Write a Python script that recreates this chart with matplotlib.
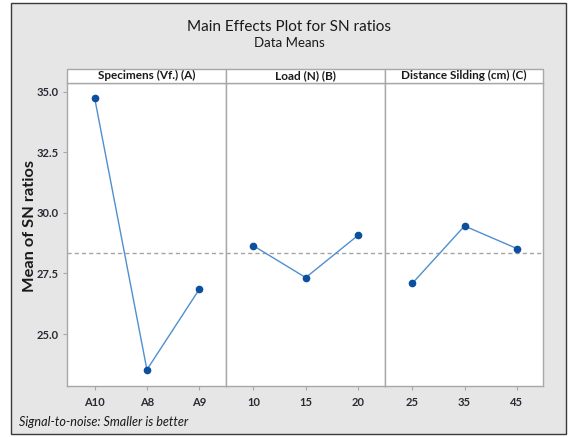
import matplotlib
matplotlib.use("Agg")
import matplotlib.pyplot as plt
from matplotlib.patches import Rectangle
import numpy as np

plt.rcParams['font.family'] = ['Lato', 'DejaVu Sans']

# data
factors = ["Specimens (Vf.) (A)", "Load (N) (B)", "Distance Silding (cm) (C)"]
levels_a = ["A10", "A8", "A9"]
levels_b = ["10", "15", "20"]
levels_c = ["25", "35", "45"]
sn_a = [34.73, 23.53, 26.84]
sn_b = [28.64, 27.33, 29.07]
sn_c = [27.09, 29.46, 28.53]
y_ticks = [25.0, 27.5, 30.0, 32.5, 35.0]

levels = [levels_a, levels_b, levels_c]
values = [sn_a, sn_b, sn_c]
grand_mean = np.mean(sn_a + sn_b + sn_c)

W, H = 574, 437
fig = plt.figure(figsize=(W / 100, H / 100), dpi=100)
fig.patch.set_facecolor("white")

# grey background box with dark frame
fig.patches.append(Rectangle((11 / W, 3 / H), 555 / W, 431 / H, transform=fig.transFigure,
                             facecolor="#e6e6e6", edgecolor="#3a3a3a", linewidth=1.0, zorder=-10))

left, bottom = 67 / W, 51.3 / H
pw, ph = 158.8 / W, 303 / H
strip_h = 13.5 / 303

line_col = "#4f8fd0"
mark_col = "#0b4f9e"
spine_col = "#a8a8a8"
text_col = "#2a2a35"

axes = []
for i in range(3):
    ax = fig.add_axes([left + i * pw, bottom, pw, ph], sharey=axes[0] if axes else None)
    axes.append(ax)
    x = np.arange(len(levels[i]))
    ax.plot(x, values[i], color=line_col, linewidth=1.0, zorder=3)
    ax.plot(x, values[i], "o", color=mark_col, markersize=4.5, zorder=4)
    ax.axhline(grand_mean, color="#a5a5a5", linestyle=(0, (3, 2.2)), linewidth=1.0, zorder=2)
    ax.set_xlim(-0.53, 2.51)
    ax.set_ylim(22.87, 35.37)
    ax.set_xticks(x)
    ax.set_xticklabels(levels[i], fontsize=8, fontweight="bold", color=text_col)
    ax.set_facecolor("white")
    for s in ax.spines.values():
        s.set_color(spine_col)
        s.set_linewidth(1.0)
    ax.tick_params(axis="x", length=3, color=spine_col, pad=5)
    if i == 0:
        ax.set_yticks(y_ticks)
        ax.set_yticklabels([f"{t:.1f}" for t in y_ticks], fontsize=8, fontweight="bold", color=text_col)
        ax.tick_params(axis="y", length=3, color=spine_col, pad=3)
    else:
        ax.tick_params(axis="y", left=False, labelleft=False)
    # strip header
    ax.add_patch(Rectangle((0, 1), 1, strip_h, transform=ax.transAxes, facecolor="white",
                           edgecolor=spine_col, linewidth=1.0, clip_on=False, zorder=5))
    ax.text(0.5, 1 + strip_h / 2, factors[i], transform=ax.transAxes, ha="center", va="center",
            fontsize=8.5, fontweight="bold", color="#1a1a1a", zorder=6)

axes[0].set_ylabel("Mean of SN ratios", fontsize=11.8, fontweight="bold", color="#1a1a1a")
axes[0].yaxis.set_label_coords(-0.19, 0.527)

fig.text(289 / W, 1 - 27 / H, "Main Effects Plot for SN ratios", ha="center", va="center",
         fontsize=11, color="#1a1a1a")
fig.text(289 / W, 1 - 43 / H, "Data Means", ha="center", va="center", fontsize=9.5, color="#1a1a1a")
fig.text(19 / W, 1 - 421.5 / H, "Signal-to-noise: Smaller is better", ha="left", va="center",
         fontsize=9.1, style="italic", color="#1a1a1a")

fig.savefig("out.png", dpi=100)
